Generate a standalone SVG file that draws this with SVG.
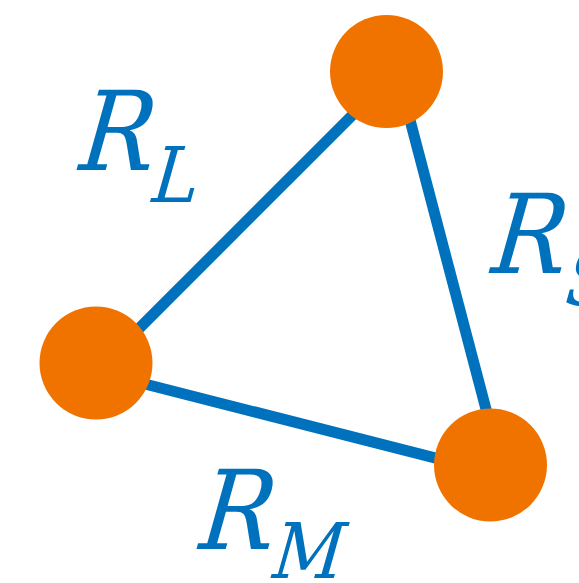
<svg xmlns="http://www.w3.org/2000/svg" width="579" height="583" viewBox="0 0 579 583">
<style>
.edge{stroke:#0072BD;stroke-width:11;fill:none}
.node{fill:#F07300}
.lbl{font-family:'DejaVu Serif','Liberation Serif',serif;font-style:italic;fill:#0072BD;font-size:110px}
.sub{font-size:77px}
</style>
<rect width="579" height="583" fill="#fff"/>
<g id="connectors">
<line class="edge" x1="96" y1="371.5" x2="397" y2="70.6"/>
<line class="edge" x1="397" y1="70.6" x2="503.4" y2="475.4"/>
<line class="edge" x1="96" y1="371.5" x2="503.4" y2="475.4"/>
</g>
<g id="node-top"><circle class="node" cx="386.5" cy="71.5" r="56.5"/></g>
<g id="node-left"><circle class="node" cx="96" cy="363" r="56.5"/></g>
<g id="node-right"><circle class="node" cx="490.5" cy="465" r="56.5"/></g>
<g id="label-RL"><text class="lbl" transform="translate(78,170) skewX(-6) scale(0.9,1)" x="0" y="0">R<tspan class="sub" x="85" y="32">L</tspan></text></g>
<g id="label-RS"><text class="lbl" transform="translate(490,273) skewX(-6) scale(0.9,1)" x="0" y="0">R<tspan class="sub" x="86" y="32">S</tspan></text></g>
<g id="label-RM"><text class="lbl" transform="translate(198,549) skewX(-6) scale(0.9,1)" x="0" y="0">R<tspan class="sub" x="85" y="29">M</tspan></text></g>
</svg>
